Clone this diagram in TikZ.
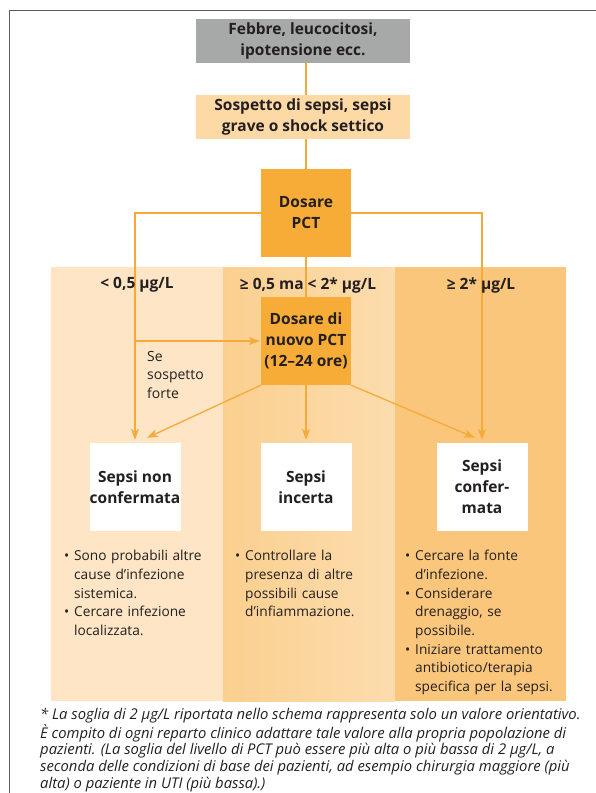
\documentclass[tikz,border=0pt]{standalone}
\usepackage{fontspec}
\setmainfont{Open Sans}
\usetikzlibrary{arrows.meta,positioning,calc}
\definecolor{arancio}{HTML}{F7A93A}
\definecolor{arancioscuro}{HTML}{F8AC38}
\definecolor{grigiobox}{HTML}{A7A9A8}
\definecolor{pesca}{HTML}{FDD9A6}
\definecolor{fondouno}{HTML}{FDE5C5}
\definecolor{fondodueA}{HTML}{FBD08F}
\definecolor{fondodueB}{HTML}{FCDCAE}
\definecolor{fondotre}{HTML}{FAC67B}
\definecolor{testo}{HTML}{231F20}
\definecolor{cornice}{HTML}{5A5A5A}
\newcommand{\punto}{\makebox[10pt][l]{\textbullet}}
\newcommand{\rientro}{\hspace*{10pt}}
\tikzset{
  grassetto/.style={font=\bfseries\fontsize{15.5}{21}\selectfont,text=testo},
  grigio/.style={grassetto,fill=grigiobox,minimum width=214pt,minimum height=44pt,inner sep=0pt,align=center},
  chiaro/.style={grassetto,fill=pesca,minimum width=214pt,minimum height=44pt,inner sep=0pt,align=center},
  scuro/.style={grassetto,fill=arancioscuro,minimum width=90pt,minimum height=88pt,inner sep=0pt,align=center},
  esito/.style={grassetto,fill=white,minimum width=91pt,minimum height=88pt,inner sep=0pt,align=center},
  soglia/.style={grassetto,inner sep=0pt},
  elenco/.style={font=\fontsize{13.7}{18.7}\selectfont,text=testo,inner sep=0pt,anchor=north west,
                 text width=160pt,align=left},
  linea/.style={draw=arancio,line width=1.3pt},
  freccia/.style={linea,-{Stealth[length=11pt,width=8pt,inset=3pt]},shorten >=3pt},
}

\begin{document}
\begin{tikzpicture}[x=1pt,y=-1pt]
  \useasboundingbox (0,0) rectangle (596,793);
  % cornice
  \draw[cornice,line width=1.4pt] (9.5,793) -- (9.5,10.7) -- (596,10.7);
  % colonne
  \fill[fondouno] (51,267) rectangle (223,701);
  \shade[left color=fondodueA,right color=fondodueB] (223,267) rectangle (395,701);
  \fill[fondotre] (395,267) rectangle (566,701);
  % nodi
  \node[grigio] (febbre) at (303,41) {Febbre, leucocitosi,\\ ipotensione ecc.};
  \node[chiaro] (sospetto) at (303,117) {Sospetto di sepsi, sepsi\\ grave o shock settico};
  \node[scuro] (dosare) at (306,213) {Dosare\\ PCT};
  \node[scuro] (nuovo) at (306,341) {Dosare di\\ nuovo PCT\\ (12–24 ore)};
  \node[esito] (nonconf) at (135,487) {Sepsi non\\ confermata};
  \node[esito] (incerta) at (306,487) {Sepsi\\ incerta};
  \node[esito] (conf) at (482,487) {Sepsi\\ confer-\\ mata};
  % connettori
  \draw[linea] (febbre.south -| dosare.north) -- (sospetto.north -| dosare.north);
  \draw[linea] (sospetto.south -| dosare.north) -- (dosare.north);
  \draw[linea] (dosare.south) -- (nuovo.north);
  \draw[freccia] (dosare.west) -| (nonconf.north);
  \draw[freccia] (dosare.east) -| (conf.north);
  \draw[freccia,shorten >=1pt] (nuovo.west -| nonconf.north) -- (nuovo.west);
  \draw[freccia] (nuovo.south) -- (incerta.north);
  \coordinate (punta1) at ($(nonconf.north)+(12,-5)$);
  \coordinate (punta3) at ($(conf.north)+(-7,-5)$);
  \draw[freccia,shorten >=0pt] (nuovo.south west) -- (punta1);
  \draw[freccia,shorten >=0pt] (nuovo.south east) -- (punta3);
  % soglie
  \node[soglia] (s1) at (137,285) {< 0,5 µg/L};
  \node[soglia] (s2) at (308,285) {≥ 0,5 ma < 2* µg/L};
  \node[soglia] (s3) at (481,285) {≥ 2* µg/L};
  \node[elenco,font=\fontsize{14}{18.5}\selectfont,text width=60pt] (forte) at (147,351) {Se\\ sospetto\\ forte};
  % elenchi
  \node[elenco] (el1) at (64,550) {\punto Sono probabili altre\\ \rientro cause d’infezione\\ \rientro sistemica.\\
    \punto Cercare infezione\\ \rientro localizzata.};
  \node[elenco] (el2) at (235,550) {\punto Controllare la\\ \rientro presenza di altre\\ \rientro possibili cause\\
    \rientro d’infiammazione.};
  \node[elenco] (el3) at (405,550) {\punto Cercare la fonte\\ \rientro d’infezione.\\
    \punto Considerare\\ \rientro drenaggio, se\\ \rientro possibile.\\
    \punto Iniziare trattamento\\ \rientro antibiotico/terapia\\ \rientro specifica per la sepsi.};
  % nota
  \node[anchor=north west,inner sep=0pt,align=left,text=testo,
        font=\itshape\fontsize{14.8}{16.7}\selectfont] (nota) at (40,708)
    {* La soglia di 2 µg/L riportata nello schema rappresenta solo un valore orientativo.\\
     È compito di ogni reparto clinico adattare tale valore alla propria popolazione di\\
     pazienti. (La soglia del livello di PCT può essere più alta o più bassa di 2 µg/L, a\\
     seconda delle condizioni di base dei pazienti, ad esempio chirurgia maggiore (più\\
     alta) o paziente in UTI (più bassa).)};
\end{tikzpicture}
\end{document}
